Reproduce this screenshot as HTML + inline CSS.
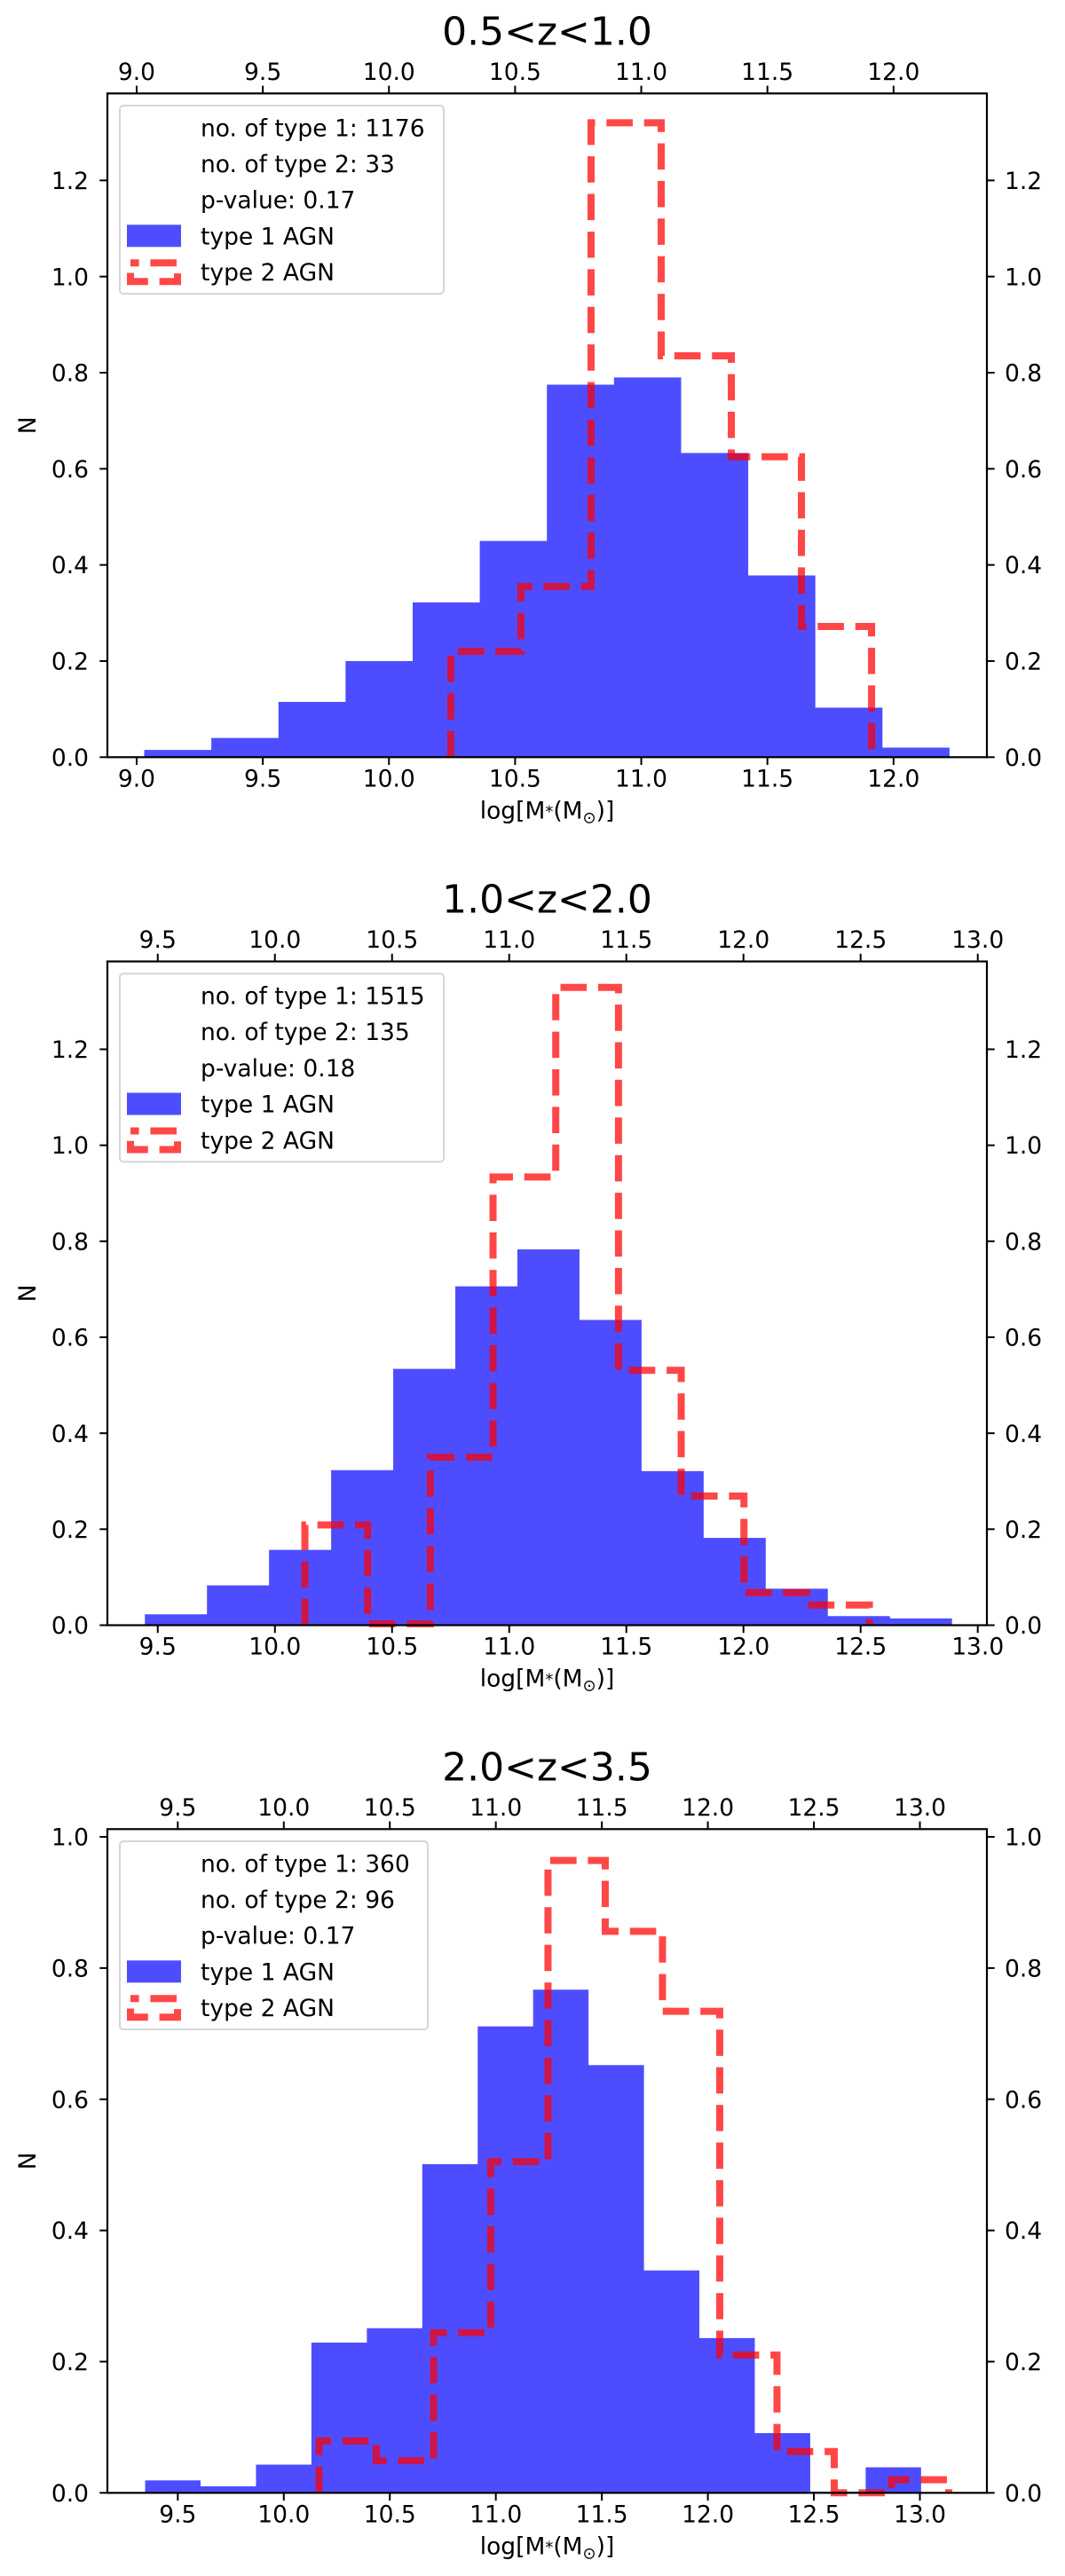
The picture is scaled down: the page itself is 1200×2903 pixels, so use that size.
<!DOCTYPE html>
<html><head><meta charset="utf-8"><style>
html,body{margin:0;padding:0;background:#fff;}
svg{display:block;font-family:"DejaVu Sans","Liberation Sans",sans-serif;}
</style></head><body>
<svg id="fig" width="1200" height="2903" viewBox="0 0 1200 2903" xmlns="http://www.w3.org/2000/svg"></svg>
<script>
// Panel 1: 0.5<z<1.0
const p1Title = "0.5<z<1.0";
const p1Type1Count = 1176, p1Type2Count = 33, p1PValue = "0.17";
const p1BlueStart = 9.03, p1BlueWidth = 0.266;
const p1BlueValues = [0.015,0.04,0.115,0.2,0.322,0.45,0.775,0.79,0.633,0.378,0.103,0.02];
const p1RedStart = 10.245, p1RedWidth = 0.278;
const p1RedValues = [0.22,0.355,1.32,0.835,0.625,0.272];
const p1XTicks = [9.0,9.5,10.0,10.5,11.0,11.5,12.0];
const p1YTicks = [0.0,0.2,0.4,0.6,0.8,1.0,1.2];
const p1XDomain = [8.884,12.37], p1YDomain = [0,1.381];

// Panel 2: 1.0<z<2.0
const p2Title = "1.0<z<2.0";
const p2Type1Count = 1515, p2Type2Count = 135, p2PValue = "0.18";
const p2BlueStart = 9.445, p2BlueWidth = 0.265;
const p2BlueValues = [0.0226,0.083,0.157,0.323,0.534,0.706,0.783,0.636,0.321,0.182,0.076,0.019,0.014];
const p2RedStart = 10.128, p2RedWidth = 0.2677;
const p2RedValues = [0.209,0.003,0.35,0.934,1.329,0.531,0.269,0.068,0.042];
const p2XTicks = [9.5,10.0,10.5,11.0,11.5,12.0,12.5,13.0];
const p2YTicks = [0.0,0.2,0.4,0.6,0.8,1.0,1.2];
const p2XDomain = [9.285,13.039], p2YDomain = [0,1.383];

// Panel 3: 2.0<z<3.5
const p3Title = "2.0<z<3.5";
const p3Type1Count = 360, p3Type2Count = 96, p3PValue = "0.17";
const p3BlueStart = 9.346, p3BlueWidth = 0.2614;
const p3BlueValues = [0.019,0.01,0.043,0.229,0.251,0.501,0.711,0.767,0.652,0.339,0.236,0.091,0.002,0.039];
const p3RedStart = 10.166, p3RedWidth = 0.27;
const p3RedValues = [0.079,0.049,0.244,0.505,0.964,0.856,0.734,0.21,0.063,0.0,0.02];
const p3XTicks = [9.5,10.0,10.5,11.0,11.5,12.0,12.5,13.0];
const p3YTicks = [0.0,0.2,0.4,0.6,0.8,1.0];
const p3XDomain = [9.168,13.316], p3YDomain = [0,1.0118];

const NS = "http://www.w3.org/2000/svg";
const fig = document.getElementById('fig');
function mk(tag, attrs, parent){
  const e = document.createElementNS(NS, tag);
  for (const k in attrs) e.setAttribute(k, attrs[k]);
  (parent||fig).appendChild(e);
  return e;
}

function panel(idx, top, title, n1, n2, pv, bStart, bW, bVals, rStart, rW, rVals, xTicks, yTicks, xDom, yDom, legendW){
  const L = 121, R = 1112, T = top, B = top + 748;
  const g = mk('g', {});
  
  
  const sx = v => L + (v - xDom[0]) / (xDom[1] - xDom[0]) * (R - L);
  const sy = v => B - (v - yDom[0]) / (yDom[1] - yDom[0]) * (B - T);

  // blue histogram as single polygon
  let bd = 'M' + sx(bStart) + ',' + sy(0);
  bVals.forEach((v, i) => {
    bd += ' L' + sx(bStart + i * bW) + ',' + sy(v) + ' L' + sx(bStart + (i + 1) * bW) + ',' + sy(v);
  });
  bd += ' L' + sx(bStart + bVals.length * bW) + ',' + sy(0) + ' Z';
  const bp = mk('path', {d: bd, fill: 'rgb(77,77,255)'}, g);
  
  

  // red step
  let d = 'M' + sx(rStart) + ',' + sy(0);
  rVals.forEach((v, i) => {
    d += ' L' + sx(rStart + i * rW) + ',' + sy(v) + ' L' + sx(rStart + (i + 1) * rW) + ',' + sy(v);
  });
  d += ' L' + sx(rStart + rVals.length * rW) + ',' + sy(0);
  const p = mk('path', {d: d, fill: 'none', stroke: 'rgb(255,0,0)', 'stroke-opacity': 0.72, 'stroke-width': 8, 'stroke-dasharray': '29.6 12.8'}, g);
  
  

  // frame
  const fr = mk('rect', {x: L, y: T, width: R - L, height: B - T, fill: 'none', stroke: '#000', 'stroke-width': 2.2}, g);
  
  

  xTicks.forEach(v => {
    const x = sx(v);
    mk('line', {x1: x, y1: B, x2: x, y2: B + 8.7, stroke: '#000', 'stroke-width': 2}, g);
    mk('line', {x1: x, y1: T, x2: x, y2: T - 8.7, stroke: '#000', 'stroke-width': 2}, g);
    const tb = mk('text', {x: x, y: B + 33, 'font-size': 26.5, 'text-anchor': 'middle'}, g);
    tb.textContent = v.toFixed(1);
    
    
    const tt = mk('text', {x: x, y: T - 15.5, 'font-size': 26.5, 'text-anchor': 'middle'}, g);
    tt.textContent = v.toFixed(1);
    
    
  });
  yTicks.forEach(v => {
    const y = sy(v);
    mk('line', {x1: L, y1: y, x2: L - 8.7, y2: y, stroke: '#000', 'stroke-width': 2}, g);
    mk('line', {x1: R, y1: y, x2: R + 8.7, y2: y, stroke: '#000', 'stroke-width': 2}, g);
    const tl = mk('text', {x: 100, y: y + 9.6, 'font-size': 26.5, 'text-anchor': 'end'}, g);
    tl.textContent = v.toFixed(1);
    
    
    const tr = mk('text', {x: 1132, y: y + 9.6, 'font-size': 26.5, 'text-anchor': 'start'}, g);
    tr.textContent = v.toFixed(1);
    
    
  });

  const ti = mk('text', {x: (L + R) / 2, y: T - 55, 'font-size': 44, 'text-anchor': 'middle'}, g);
  ti.textContent = title;
  
  
  const xl = mk('text', {x: (L + R) / 2, y: B + 69, 'font-size': 26.5, 'text-anchor': 'middle'}, g);
  xl.innerHTML = 'log[M<tspan font-size="18" dy="-2">*</tspan><tspan dy="2">(M</tspan><tspan font-size="18" dy="5">⊙</tspan><tspan dy="-5">)]</tspan>';
  
  
  const yl = mk('text', {x: 40, y: (T + B) / 2, 'font-size': 26.5, 'text-anchor': 'middle', transform: 'rotate(-90 40 ' + ((T + B) / 2) + ')'}, g);
  yl.textContent = 'N';
  
  

  const lg = mk('g', {}, g);
  
  
  mk('rect', {x: 135, y: T + 13.7, width: legendW, height: 212, rx: 4, fill: 'rgba(255,255,255,0.8)', stroke: '#d6d6d6', 'stroke-width': 2}, lg);
  const lines = ['no. of type 1: ' + n1, 'no. of type 2: ' + n2, 'p-value: ' + pv, 'type 1 AGN', 'type 2 AGN'];
  lines.forEach((s, i) => {
    const t = mk('text', {x: 226, y: T + 48 + i * 40.7, 'font-size': 26.5}, lg);
    t.textContent = s;
    
    
  });
  mk('rect', {x: 143, y: T + 148, width: 61, height: 25, fill: 'rgb(77,77,255)'}, lg);
  mk('rect', {x: 147, y: T + 191, width: 53, height: 21, fill: 'none', stroke: 'rgb(255,0,0)', 'stroke-opacity': 0.72, 'stroke-width': 8, 'stroke-dasharray': '29.6 12.8', 'stroke-dashoffset': 20}, lg);
}

panel(1, 105.3, p1Title, p1Type1Count, p1Type2Count, p1PValue, p1BlueStart, p1BlueWidth, p1BlueValues, p1RedStart, p1RedWidth, p1RedValues, p1XTicks, p1YTicks, p1XDomain, p1YDomain, 365);
panel(2, 1083.5, p2Title, p2Type1Count, p2Type2Count, p2PValue, p2BlueStart, p2BlueWidth, p2BlueValues, p2RedStart, p2RedWidth, p2RedValues, p2XTicks, p2YTicks, p2XDomain, p2YDomain, 365);
panel(3, 2061.3, p3Title, p3Type1Count, p3Type2Count, p3PValue, p3BlueStart, p3BlueWidth, p3BlueValues, p3RedStart, p3RedWidth, p3RedValues, p3XTicks, p3YTicks, p3XDomain, p3YDomain, 347);
</script>
</body></html>
